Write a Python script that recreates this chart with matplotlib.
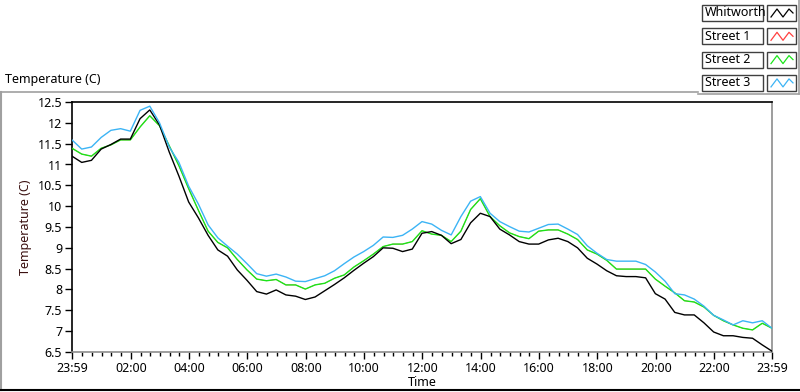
import numpy as np
import matplotlib
matplotlib.use("Agg")
import matplotlib.pyplot as plt
from matplotlib.lines import Line2D
from matplotlib.patches import Rectangle

# samples every 20 minutes, hours counted from 23:59 the day before
hours = np.arange(0, 24.01, 1 / 3)

whitworth = [11.20, 11.05, 11.10, 11.37, 11.48, 11.61, 11.61, 12.10, 12.31, 11.95,
             11.30, 10.72, 10.10, 9.72, 9.30, 8.95, 8.80, 8.47, 8.22, 7.95,
             7.89, 7.99, 7.87, 7.84, 7.76, 7.82, 7.97, 8.12, 8.28, 8.46,
             8.63, 8.79, 9.00, 8.99, 8.91, 8.97, 9.35, 9.39, 9.30, 9.10,
             9.20, 9.60, 9.83, 9.75, 9.45, 9.31, 9.15, 9.09, 9.09, 9.19,
             9.23, 9.15, 9.00, 8.75, 8.61, 8.45, 8.33, 8.31, 8.31, 8.28,
             7.90, 7.77, 7.45, 7.39, 7.39, 7.20, 6.98, 6.89, 6.89, 6.85,
             6.83, 6.67, 6.52]
street2 = [11.39, 11.25, 11.20, 11.39, 11.47, 11.59, 11.59, 11.90, 12.17, 11.93,
           11.45, 10.97, 10.42, 9.90, 9.40, 9.13, 9.00, 8.72, 8.47, 8.25,
           8.21, 8.24, 8.11, 8.11, 8.01, 8.11, 8.15, 8.27, 8.35, 8.54,
           8.69, 8.85, 9.03, 9.09, 9.09, 9.15, 9.41, 9.33, 9.30, 9.15,
           9.40, 9.92, 10.18, 9.75, 9.53, 9.36, 9.27, 9.22, 9.40, 9.43,
           9.43, 9.33, 9.20, 8.95, 8.85, 8.70, 8.49, 8.49, 8.49, 8.49,
           8.25, 8.08, 7.92, 7.73, 7.70, 7.58, 7.38, 7.25, 7.15, 7.07,
           7.03, 7.19, 7.07]
# Street 1 lies under Street 2 everywhere in the picture
street1 = list(street2)
street3 = [11.59, 11.37, 11.42, 11.65, 11.82, 11.86, 11.80, 12.30, 12.40, 12.00,
           11.42, 11.05, 10.48, 10.05, 9.55, 9.24, 9.04, 8.85, 8.62, 8.38,
           8.32, 8.37, 8.30, 8.20, 8.19, 8.26, 8.33, 8.45, 8.62, 8.78,
           8.91, 9.06, 9.26, 9.25, 9.30, 9.45, 9.63, 9.57, 9.42, 9.31,
           9.75, 10.12, 10.23, 9.83, 9.63, 9.51, 9.40, 9.38, 9.47, 9.56,
           9.57, 9.45, 9.32, 9.05, 8.87, 8.72, 8.68, 8.68, 8.68, 8.60,
           8.42, 8.20, 7.90, 7.87, 7.77, 7.60, 7.38, 7.27, 7.15, 7.25,
           7.20, 7.25, 7.07]

names = ["Whitworth", "Street 1", "Street 2", "Street 3"]
colors = ["#000000", "#ff4040", "#19e619", "#3cb4f5"]
series = [whitworth, street1, street2, street3]
widths = [1.0, 0.5, 1.0, 1.0]

tick_labels = ["23:59", "02:00", "04:00", "06:00", "08:00", "10:00", "12:00",
               "14:00", "16:00", "18:00", "20:00", "22:00", "23:59"]

plt.rcParams["font.family"] = ["Noto Sans", "DejaVu Sans"]

fig = plt.figure(figsize=(8, 3.92), dpi=100)
ax = fig.add_axes([72 / 800, 1 - 352 / 392, 700 / 800, 250 / 392])

order = [1, 2, 0, 3]
for z, i in enumerate(order):
    ax.plot(hours, series[i], color=colors[i], lw=widths[i], zorder=2 + z)

off = 1 / 60
major = [0] + [h + off for h in range(2, 24, 2)] + [24]
minor = [k / 3 + off for k in range(1, 72) if k % 6 != 0]
ax.set_xlim(0, 24)
ax.set_xticks(major)
ax.set_xticklabels(tick_labels)
ax.set_xticks(minor, minor=True)
ax.set_ylim(6.5, 12.5)
yt = np.arange(6.5, 12.51, 0.5)
ax.set_yticks(yt)
ax.set_yticklabels(["%g" % v for v in yt])

ax.tick_params(axis="both", which="major", labelsize=9, length=5, width=1, color="black", pad=2)
ax.tick_params(axis="x", which="minor", length=3, width=1, color="black")
for s in ["top", "left"]:
    ax.spines[s].set_color("black")
for s in ["bottom", "right"]:
    ax.spines[s].set_color("#8c8c8c")
for s in ax.spines.values():
    s.set_linewidth(1.2)

ax.set_xlabel("Time", fontsize=9, labelpad=1)
ax.set_ylabel("Temperature (C)", fontsize=9, color="#3a1010", labelpad=4)

# panel frame and caption
fig.add_artist(Line2D([0, 698 / 800], [1 - 92 / 392] * 2, color="#a0a0a0", lw=1.2))
fig.add_artist(Line2D([1 / 800] * 2, [1 - 92 / 392, 1 - 390 / 392], color="#a0a0a0", lw=1.5))
fig.add_artist(Line2D([0, 1], [1 - 390 / 392] * 2, color="black", lw=1.5))
fig.text(5 / 800, 1 - 80 / 392, "Temperature (C)", fontsize=9, va="center", ha="left")

# legend panel
fig.add_artist(Line2D([798.5 / 800] * 2, [1, 1 - 94 / 392], color="#a0a0a0", lw=1.2))
fig.add_artist(Line2D([698 / 800, 798.5 / 800], [1 - 94 / 392] * 2, color="#a0a0a0", lw=1.2))
for i, name in enumerate(names):
    top = 5 + i * 23.3
    h = 16
    fig.add_artist(Rectangle((702 / 800, 1 - (top + h) / 392), 61 / 800, h / 392,
                             facecolor="white", edgecolor="#404040", lw=1))
    fig.text(705 / 800, 1 - (top + h / 2) / 392, name, fontsize=9, va="center", ha="left")
    fig.add_artist(Rectangle((767 / 800, 1 - (top + h) / 392), 29 / 800, h / 392,
                             facecolor="white", edgecolor="#404040", lw=1))
    zx = np.array([771, 777, 783, 789, 793]) / 800
    zy = 1 - (top + np.array([12, 4, 12, 4, 8])) / 392
    fig.add_artist(Line2D(zx, zy, color=colors[i], lw=0.9))

fig.savefig("out.png", dpi=100)
